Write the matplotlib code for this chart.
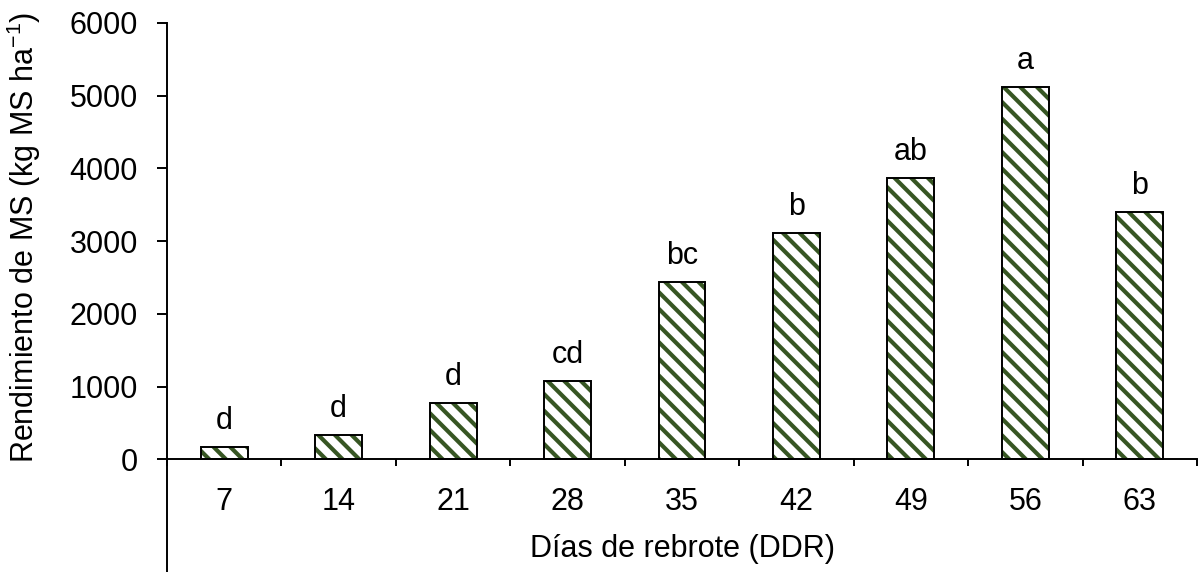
import matplotlib
matplotlib.use("Agg")
import matplotlib.pyplot as plt
import numpy as np

# rendimiento de materia seca por edad de rebrote
dias = ["7", "14", "21", "28", "35", "42", "49", "56", "63"]
rendimiento = [175, 335, 775, 1080, 2440, 3110, 3865, 5120, 3400]
letras = ["d", "d", "d", "cd", "bc", "b", "ab", "a", "b"]

verde = "#375623"
fs = 22

plt.rcParams["font.family"] = ["Liberation Sans", "DejaVu Sans"]
plt.rcParams["mathtext.fontset"] = "custom"
plt.rcParams["mathtext.rm"] = "Liberation Sans"
plt.rcParams["mathtext.it"] = "Liberation Sans"
plt.rcParams["hatch.linewidth"] = 3.0

fig = plt.figure(figsize=(12, 5.72), dpi=100)
ax = fig.add_axes([167 / 1200, 0, 1030 / 1200, 1 - 23 / 572])

x = np.arange(len(dias))
# relleno rayado verde y luego el borde negro encima
ax.bar(x, rendimiento, width=0.41, color="white", edgecolor=verde, hatch="\\\\", lw=0)
ax.bar(x, rendimiento, width=0.41, fill=False, edgecolor="black", lw=1.4)

for xi, v, l in zip(x, rendimiento, letras):
    ax.annotate(l, (xi, v), xytext=(0, 13), textcoords="offset points",
                ha="center", va="baseline", fontsize=fs)

ax.set_xlim(-0.5, len(dias) - 0.5)
ax.set_ylim(-1550, 6000)
ax.set_yticks(np.arange(0, 6001, 1000))

ax.spines["top"].set_visible(False)
ax.spines["right"].set_visible(False)
ax.spines["bottom"].set_position(("data", 0))
ax.spines["left"].set_linewidth(1.4)
ax.spines["bottom"].set_linewidth(1.4)

# marcas entre categorias, etiquetas centradas
ax.set_xticks(np.arange(-0.5, len(dias), 1.0))
ax.set_xticklabels([])
ax.set_xticks(x, minor=True)
ax.set_xticklabels(dias, minor=True)
ax.tick_params(axis="x", which="major", direction="out", length=5, width=1.4)
ax.tick_params(axis="x", which="minor", length=0, pad=20, labelsize=fs)
ax.tick_params(axis="y", direction="out", length=7, width=1.4, pad=14, labelsize=fs)

fig.text(682 / 1200, 1 - 549 / 572, "Días de rebrote (DDR)", ha="center", va="center", fontsize=fs)
fig.text(24 / 1200, 1 - 237 / 572, "Rendimiento de MS (kg MS ha$^{-1}$)",
         ha="center", va="center", rotation=90, fontsize=fs)

fig.savefig("out.png", dpi=100)
